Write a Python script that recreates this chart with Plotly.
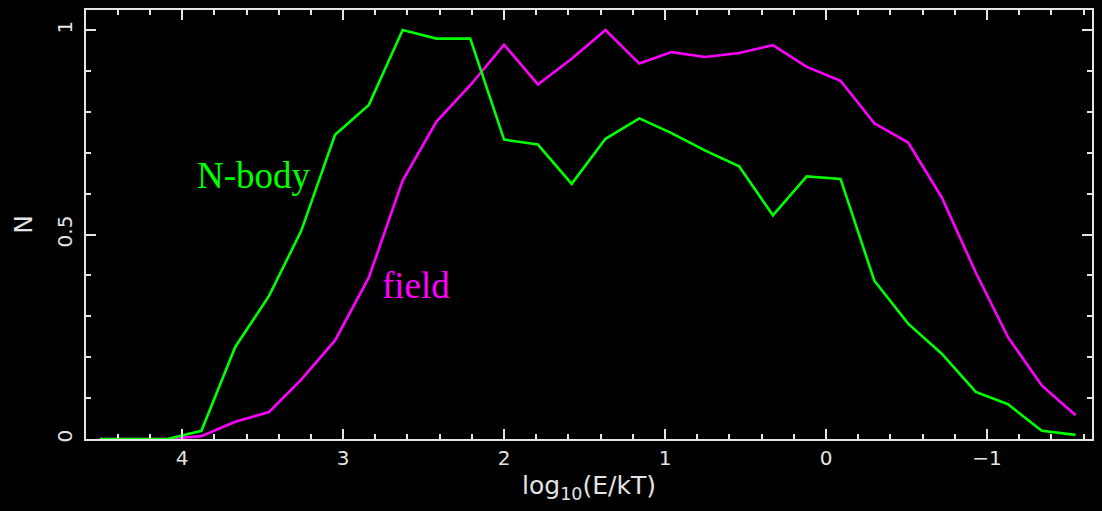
import plotly.graph_objects as go

# Bin centres in log10(E/kT)
log_e = [4.51, 4.30, 4.09, 3.88, 3.67, 3.46, 3.26, 3.05, 2.84, 2.63,
         2.42, 2.21, 2.00, 1.79, 1.58, 1.37, 1.16, 0.96, 0.75, 0.54,
         0.33, 0.12, -0.09, -0.30, -0.51, -0.72, -0.93, -1.13, -1.34, -1.55]

# Normalised counts, N-body binaries
n_nbody = [0.0, 0.0, 0.0, 0.020, 0.225, 0.350, 0.509, 0.744, 0.817, 1.000,
           0.979, 0.979, 0.732, 0.720, 0.624, 0.734, 0.784, 0.748, 0.705, 0.667,
           0.547, 0.642, 0.636, 0.387, 0.282, 0.208, 0.115, 0.085, 0.020, 0.010]

# Normalised counts, field binaries
n_field = [0.0, 0.0, 0.0, 0.007, 0.042, 0.066, 0.145, 0.241, 0.395, 0.632,
           0.776, 0.865, 0.964, 0.867, 0.930, 1.000, 0.918, 0.946, 0.934, 0.944,
           0.963, 0.910, 0.876, 0.772, 0.725, 0.590, 0.407, 0.249, 0.131, 0.058]

x_ticks = [4, 3, 2, 1, 0, -1]
x_tick_text = ["4", "3", "2", "1", "0", "\u22121"]
y_ticks = [0, 0.5, 1]
y_tick_text = ["0", "0.5", "1"]

GREEN = "#00ff00"
MAGENTA = "#ff00ff"
AXIS = "#e4e4e4"

fig = go.Figure()
fig.add_trace(go.Scatter(x=log_e, y=n_field, mode="lines", name="field",
                         line=dict(color=MAGENTA, width=2.6)))
fig.add_trace(go.Scatter(x=log_e, y=n_nbody, mode="lines", name="N-body",
                         line=dict(color=GREEN, width=2.6)))

fig.add_annotation(x=3.552, y=0.645, text="N-body", showarrow=False,
                   font=dict(family="Liberation Serif", size=37, color=GREEN))
fig.add_annotation(x=2.545, y=0.375, text="field", showarrow=False,
                   font=dict(family="Liberation Serif", size=37, color=MAGENTA))

tick_font = dict(family="DejaVu Sans", size=20, color=AXIS)
title_font = dict(family="DejaVu Sans", size=25, color=AXIS)

fig.update_xaxes(
    range=[4.597, -1.652], tickvals=x_ticks, ticktext=x_tick_text,
    ticks="inside", ticklen=10, tickwidth=1.5, tickcolor=AXIS,
    minor=dict(dtick=0.2, tick0=0, ticks="inside", ticklen=5,
               tickwidth=1.5, tickcolor=AXIS),
    showline=True, linecolor=AXIS, linewidth=1.5, mirror="allticks",
    showgrid=False, zeroline=False, tickfont=tick_font,
    title=dict(text="log<sub>10</sub>(E/kT)", font=title_font, standoff=8),
)
fig.update_yaxes(
    range=[0, 1.049], tickvals=y_ticks, ticktext=y_tick_text, tickangle=-90,
    ticks="inside", ticklen=10, tickwidth=1.5, tickcolor=AXIS,
    ticklabelstandoff=4,
    minor=dict(dtick=0.1, tick0=0, ticks="inside", ticklen=5,
               tickwidth=1.5, tickcolor=AXIS),
    showline=True, linecolor=AXIS, linewidth=1.5, mirror="allticks",
    showgrid=False, zeroline=False, tickfont=tick_font,
    title=dict(text="N", font=title_font, standoff=14),
)

fig.update_layout(
    width=1102, height=511,
    margin=dict(l=86, r=8, t=8, b=72),
    paper_bgcolor="black", plot_bgcolor="black",
    showlegend=False,
)

fig.write_html("out.html")
